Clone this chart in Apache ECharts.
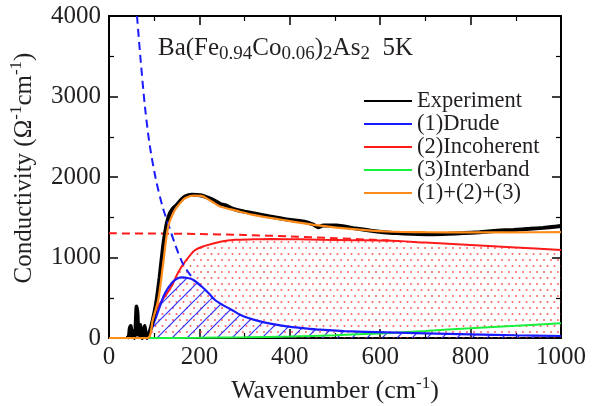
<!DOCTYPE html>
<html>
<head>
<meta charset="utf-8">
<script src="https://cdn.jsdelivr.net/npm/echarts/dist/echarts.min.js"></script>
<style>
  html, body { margin: 0; padding: 0; background: #fff; }
  #chart { width: 609px; height: 406px; }
</style>
</head>
<body>
<div id="chart"></div>
<script>
// values: [wavenumber (cm-1), conductivity (Ohm-1 cm-1)]
var xTicks = [0, 200, 400, 600, 800, 1000];
var yTicks = [0, 1000, 2000, 3000, 4000];

var experiment = [
  [40, 0], [44, 20], [46, 120], [48, 150], [50, 20], [53, 90], [55, 60], [57, 0],
  [59, 150], [61, 390], [63, 300], [65, 40], [67, 120], [69, 160], [71, 20], [74, 0],
  [77, 100], [79, 150], [81, 60], [84, 0], [88, 40], [96, 200], [104, 420], [112, 750],
  [120, 1150], [128, 1427], [135, 1551], [142, 1613], [150, 1654], [160, 1720], [168, 1757],
  [183, 1778], [195, 1776], [205, 1770], [220, 1740], [234, 1705], [246, 1665], [257, 1650],
  [270, 1615], [283, 1590], [300, 1570], [319, 1549], [356, 1509], [393, 1473], [430, 1447],
  [452, 1410], [463, 1375], [474, 1398], [504, 1397], [540, 1365], [577, 1335], [614, 1310],
  [636, 1303], [670, 1295], [710, 1290], [750, 1295], [784, 1303], [820, 1315], [858, 1331],
  [895, 1343], [931, 1356], [960, 1368], [990, 1385], [1000, 1392]
];
var drude = [
  [86, 0], [94, 110], [102, 227], [113, 400], [124, 558], [139, 683], [150, 735], [162, 752],
  [174, 745], [186, 724], [205, 640], [220, 560], [234, 475], [250, 415], [271, 351], [290, 289],
  [310, 245], [334, 206], [360, 175], [393, 144], [430, 122], [467, 103], [520, 86], [614, 70],
  [700, 58], [800, 45], [900, 34], [1000, 25]
];
var drudeNormal = [
  [62, 4000], [70, 3450], [80, 2850], [90, 2400], [103, 1990], [119, 1620], [132, 1400],
  [147, 1150], [162, 940], [175, 820], [188, 725]
];
var incoherent = [
  [85, 0], [98, 186], [109, 392], [124, 520], [139, 650], [153, 815], [168, 945], [190, 1090],
  [212, 1145], [249, 1200], [279, 1220], [320, 1226], [360, 1229], [420, 1226], [467, 1220],
  [540, 1215], [614, 1210], [700, 1185], [800, 1155], [900, 1125], [1000, 1093]
];
var incoherentNormal = [
  [0, 1300], [100, 1298], [200, 1292], [300, 1280], [400, 1262], [500, 1240], [620, 1212]
];
var interband = [
  [86, 0], [200, 3], [300, 8], [400, 18], [500, 35], [600, 57], [700, 88], [800, 122],
  [900, 152], [1000, 184]
];
var total = [
  [0, 0], [85, 0], [97, 230], [109, 475], [120, 930], [131, 1385], [146, 1592], [158, 1680],
  [168, 1737], [187, 1769], [205, 1765], [220, 1720], [234, 1672], [246, 1633], [279, 1585],
  [319, 1529], [393, 1459], [467, 1397], [540, 1352], [614, 1323], [700, 1314], [800, 1313],
  [900, 1313], [1000, 1315]
];

var FONT = 'Liberation Serif';
var TXT = '#231f20';

// fill patterns
function hatchPattern() {
  var c = document.createElement('canvas');
  var s = 15;
  c.width = s; c.height = s;
  var ctx = c.getContext('2d');
  ctx.strokeStyle = '#2f2fff';
  ctx.lineWidth = 1.2;
  for (var k = -1; k <= 1; k++) {
    ctx.beginPath();
    ctx.moveTo(k * s, s);
    ctx.lineTo(k * s + s, 0);
    ctx.stroke();
  }
  return c;
}
function dotPattern() {
  var c = document.createElement('canvas');
  c.width = 7; c.height = 12;
  var ctx = c.getContext('2d');
  ctx.fillStyle = 'rgba(255,60,60,0.8)';
  ctx.beginPath(); ctx.arc(1.5, 2, 1, 0, Math.PI * 2); ctx.fill();
  ctx.beginPath(); ctx.arc(5, 8, 1, 0, Math.PI * 2); ctx.fill();
  return c;
}

var chart = echarts.init(document.getElementById('chart'), null, { renderer: 'canvas' });

function tickLabel(v) { return '{t|' + v + '}'; }
var tickRich = { t: { fontSize: 25, fontFamily: FONT, color: TXT } };
function nameRich(size) {
  return {
    n: { fontSize: size, fontFamily: FONT, color: TXT, lineHeight: 32 },
    sup: { fontSize: 17, fontFamily: FONT, color: TXT, lineHeight: 12, verticalAlign: 'top' }
  };
}

function xAxisCfg(pos, labels) {
  return {
    type: 'value', position: pos, min: xTicks[0], max: xTicks[xTicks.length - 1], interval: 200,
    axisLine: { show: true, onZero: false, lineStyle: { color: '#000', width: 2 } },
    axisTick: { show: true, inside: true, length: 9, lineStyle: { color: '#000', width: 1.5 } },
    minorTick: { show: true, splitNumber: 2, length: 5, lineStyle: { color: '#000', width: 1.2 } },
    splitLine: { show: false },
    axisLabel: { show: labels, margin: 7, formatter: tickLabel, rich: tickRich },
    name: labels ? '{n|Wavenumber (cm}{sup|-1}{n|)}' : '',
    nameLocation: 'middle', nameGap: 34,
    nameTextStyle: { fontSize: 26, fontFamily: FONT, color: TXT, lineHeight: 32, rich: nameRich(26) }
  };
}
function yAxisCfg(pos, labels) {
  return {
    type: 'value', position: pos, min: yTicks[0], max: yTicks[yTicks.length - 1], interval: 1000,
    axisLine: { show: true, onZero: false, lineStyle: { color: '#000', width: 2 } },
    axisTick: { show: true, inside: true, length: 9, lineStyle: { color: '#000', width: 1.5 } },
    minorTick: { show: true, splitNumber: 2, length: 5, lineStyle: { color: '#000', width: 1.2 } },
    splitLine: { show: false },
    axisLabel: { show: labels, margin: 8, formatter: tickLabel, rich: tickRich },
    name: labels ? '{n|Conductivity (\u03A9}{sup|-1}{n|cm}{sup|-1}{n|)}' : '',
    nameLocation: 'middle', nameGap: 52,
    nameTextStyle: { fontSize: 25, fontFamily: FONT, color: TXT, lineHeight: 32, padding: [0, 0, 0, 18], rich: nameRich(25) }
  };
}

function lineSeries(name, data, color, width, extra) {
  var s = {
    name: name, type: 'line', data: data, symbol: 'none', smooth: 0.3,
    lineStyle: { color: color, width: width }, itemStyle: { color: color },
    animation: false, silent: true, clip: true
  };
  for (var k in extra) s[k] = extra[k];
  return s;
}

var option = {
  backgroundColor: '#fff',
  animation: false,
  textStyle: { fontFamily: FONT, color: TXT },
  grid: { left: 109, right: 48, top: 16, bottom: 68, outerBoundsMode: 'none' },
  title: {
    text: 'Ba(Fe{sub|0.94}Co{sub|0.06}){sub|2}As{sub|2}  5K',
    left: 153, top: 27,
    textStyle: {
      fontSize: 25, fontFamily: FONT, fontWeight: 'normal', color: TXT, lineHeight: 32,
      rich: { sub: { fontSize: 19, fontFamily: FONT, color: TXT, lineHeight: 18, verticalAlign: 'bottom' } }
    }
  },
  legend: {
    orient: 'vertical', left: 358, top: 84.5,
    itemWidth: 48, itemHeight: 10, itemGap: 0,
    itemStyle: { opacity: 0 },
    data: ['Experiment', '(1)Drude', '(2)Incoherent', '(3)Interband', '(1)+(2)+(3)'],
    textStyle: { fontSize: 22.5, fontFamily: FONT, color: TXT, lineHeight: 22.7, padding: [0, 0, 0, 0] }
  },
  xAxis: [xAxisCfg('bottom', true), xAxisCfg('top', false)],
  yAxis: [yAxisCfg('left', true), yAxisCfg('right', false)],
  series: [
    lineSeries('incoherentFill', incoherent, 'rgba(0,0,0,0)', 0, {
      areaStyle: { color: { image: dotPattern(), repeat: 'repeat' }, opacity: 1 }
    }),
    lineSeries('drudeFill', drude, 'rgba(0,0,0,0)', 0, {
      areaStyle: { color: { image: hatchPattern(), repeat: 'repeat' }, opacity: 1 }
    }),
    lineSeries('(3)Interband', interband, '#19f03c', 2),
    lineSeries('incoherentNormal', incoherentNormal, '#ff1a1a', 2, { lineStyle: { color: '#ff1a1a', width: 2, type: [8, 5] } }),
    lineSeries('(2)Incoherent', incoherent, '#ff1a1a', 2),
    lineSeries('(1)Drude', drude, '#1a1aff', 2.2),
    lineSeries('Experiment', experiment, '#000', 4, { smooth: 0.15 }),
    lineSeries('drudeNormal', drudeNormal, '#1a1aff', 2, { lineStyle: { color: '#1a1aff', width: 2, type: [8, 5] } }),
    lineSeries('(1)+(2)+(3)', total, '#ff8c1a', 2.2)
  ]
};
chart.setOption(option);
</script>
</body>
</html>
